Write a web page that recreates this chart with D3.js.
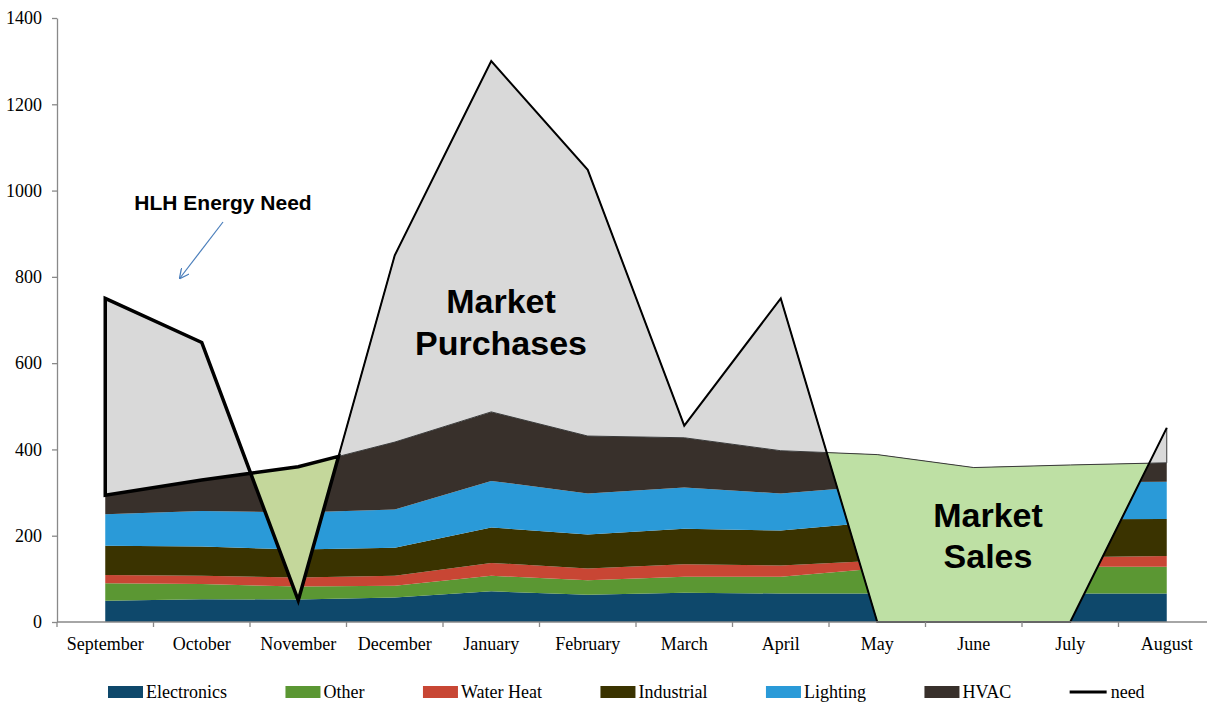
<!DOCTYPE html>
<html>
<head>
<meta charset="utf-8">
<script src="https://cdn.jsdelivr.net/npm/d3@7"></script>
<style>
  body { margin: 0; background: #fff; }
  svg { display: block; }
</style>
</head>
<body>
<svg id="chart"></svg>
<script>
// Categories and series
const months = ["September", "October", "November", "December", "January", "February",
                "March", "April", "May", "June", "July", "August"];
const electronics = [49, 53, 52, 57, 71, 63, 68, 66, 66, 64, 66, 66];
const other       = [41, 35, 30, 27, 36, 34, 37, 39, 58, 62, 62, 62];
const waterHeat   = [19, 19, 21, 23, 30, 27, 29, 26, 18, 19, 22, 25];
const industrial  = [68, 68, 65, 65, 82, 79, 82, 81, 90, 89, 88, 86];
const lighting    = [73, 82, 86, 89, 108, 95, 96, 86, 84, 86, 86, 86];
const hvac        = [44, 72, 106, 156, 160, 133, 115, 99, 72, 38, 40, 44];
const need        = [750, 648, 50, 850, 1300, 1048, 455, 750, 0, 0, 0, 450];
const yTicks = [0, 200, 400, 600, 800, 1000, 1200, 1400];

const seriesNames = ["Electronics", "Other", "Water Heat", "Industrial", "Lighting", "HVAC"];
const seriesValues = [electronics, other, waterHeat, industrial, lighting, hvac];
const seriesColors = ["#0e486b", "#5b9733", "#c84634", "#3a3300", "#2a9ad8", "#38302b"];

const W = 1207, H = 705;
const svg = d3.select("#chart").attr("width", W).attr("height", H);

// Scales
const band = d3.scaleBand().domain(months).range([57, 1215]).padding(0);
const xi = d3.scaleLinear().domain([0, months.length - 1])
  .range([band(months[0]) + band.bandwidth() / 2, band(months[months.length - 1]) + band.bandwidth() / 2]);
const y = d3.scaleLinear().domain([0, 1400]).range([622, 18]);

// Stacked areas
const rows = months.map((m, i) => {
  const r = { i: i };
  seriesNames.forEach((n, k) => r[n] = seriesValues[k][i]);
  return r;
});
const stack = d3.stack().keys(seriesNames)(rows);
const area = d3.area()
  .x(d => xi(d.data.i))
  .y0(d => y(d[0]))
  .y1(d => y(d[1]));

svg.append("g").selectAll("path")
  .data(stack)
  .join("path")
  .attr("d", area)
  .attr("fill", (d, k) => seriesColors[k]);

// Total demand for each month
const total = rows.map(r => d3.sum(seriesNames, n => r[n]));

// Build need/total with crossing points so the purchase / sale regions can be split
let pts = [];
for (let i = 0; i < months.length; i++) {
  pts.push({ i: i, need: need[i], total: total[i] });
  if (i < months.length - 1) {
    const d0 = need[i] - total[i], d1 = need[i + 1] - total[i + 1];
    if (d0 * d1 < 0) {
      const t = d0 / (d0 - d1);
      const v = need[i] + t * (need[i + 1] - need[i]);
      pts.push({ i: i + t, need: v, total: v, cross: true });
    }
  }
}
let regions = [];
let cur = [pts[0]];
for (let k = 1; k < pts.length; k++) {
  cur.push(pts[k]);
  if (pts[k].cross) {
    regions.push(cur);
    cur = [pts[k]];
  }
}
regions.push(cur);
regions = regions.map((r, k) => ({ pts: r, k: k, buy: d3.mean(r, p => p.need - p.total) > 0 }));

const regionArea = d3.area()
  .x(d => xi(d.i))
  .y0(d => y(d.total))
  .y1(d => y(d.need));

// thin-outlined regions first, the two hand-outlined ones (Sep-Nov) drawn after
const ordered = regions.filter(r => r.k >= 2).concat(regions.filter(r => r.k < 2));

const needLine = d3.line()
  .x((d, i) => xi(i))
  .y(d => y(d));

svg.append("g").selectAll("path")
  .data(ordered.filter(r => r.k >= 2))
  .join("path")
  .attr("d", r => regionArea(r.pts) + "Z")
  .attr("fill", r => r.buy ? "#d9d9d9" : "#bee0a4")
  .attr("stroke", "#3a3a3a")
  .attr("stroke-width", 1);

// Need line
svg.append("path")
  .attr("d", needLine(need))
  .attr("fill", "none")
  .attr("stroke", "#000")
  .attr("stroke-width", 2);

svg.append("g").selectAll("path")
  .data(ordered.filter(r => r.k < 2))
  .join("path")
  .attr("d", r => regionArea(r.pts) + "Z")
  .attr("fill", r => r.buy ? "#d9d9d9" : "#c4d79b")
  .attr("stroke", "#000")
  .attr("stroke-width", 3.5)
  .attr("stroke-linejoin", "miter")
  .attr("stroke-miterlimit", 10);

// Axes
const axisColor = "#898989";
const yAxis = svg.append("g")
  .attr("transform", "translate(57,0)")
  .call(d3.axisLeft(y).tickValues(yTicks).tickFormat(d3.format("d"))
    .tickSize(5).tickSizeOuter(0).tickPadding(10));
yAxis.select(".domain").attr("stroke", axisColor).attr("stroke-width", 1.3);
yAxis.selectAll(".tick line").attr("stroke", axisColor).attr("stroke-width", 1.3);
yAxis.selectAll(".tick text")
  .attr("font-family", "'Liberation Serif', 'Times New Roman', serif")
  .attr("font-size", 18)
  .attr("fill", "#000");

svg.append("line")
  .attr("x1", 57).attr("x2", W)
  .attr("y1", y(0)).attr("y2", y(0))
  .attr("stroke", axisColor).attr("stroke-width", 1.3);
svg.append("g").selectAll("line")
  .data(d3.range(months.length + 1))
  .join("line")
  .attr("x1", i => band.range()[0] + i * band.bandwidth())
  .attr("x2", i => band.range()[0] + i * band.bandwidth())
  .attr("y1", y(0)).attr("y2", y(0) + 5)
  .attr("stroke", axisColor).attr("stroke-width", 1.3);
svg.append("g").selectAll("text")
  .data(months)
  .join("text")
  .attr("x", m => band(m) + band.bandwidth() / 2)
  .attr("y", 650)
  .attr("text-anchor", "middle")
  .attr("font-family", "'Liberation Serif', 'Times New Roman', serif")
  .attr("font-size", 18)
  .text(m => m);

// Annotations
const sans = "'Liberation Sans', Arial, sans-serif";
function label(lines, cx, y0, dy, size) {
  const t = svg.append("text")
    .attr("text-anchor", "middle")
    .attr("font-family", sans)
    .attr("font-weight", "bold")
    .attr("font-size", size);
  lines.forEach((s, k) => t.append("tspan").attr("x", cx).attr("y", y0 + k * dy).text(s));
}
label(["Market", "Purchases"], 501, 313, 42, 34);
label(["Market", "Sales"], 988, 527, 41, 34);
label(["HLH Energy Need"], 223, 210, 0, 21);

const defs = svg.append("defs");
defs.append("marker")
  .attr("id", "arrow")
  .attr("viewBox", "0 0 10 10")
  .attr("refX", 9).attr("refY", 5)
  .attr("markerWidth", 10).attr("markerHeight", 10)
  .attr("markerUnits", "userSpaceOnUse")
  .attr("orient", "auto")
  .append("path")
  .attr("d", "M0,0 L10,5 L0,10")
  .attr("fill", "none")
  .attr("stroke", "#4a7ebb")
  .attr("stroke-width", 1.3);
svg.append("line")
  .attr("x1", 223).attr("y1", 222)
  .attr("x2", 180).attr("y2", 278)
  .attr("stroke", "#4a7ebb")
  .attr("stroke-width", 1.2)
  .attr("marker-end", "url(#arrow)");

// Legend
const legend = svg.append("g").attr("transform", "translate(0,692)");
let lx = 108;
const legendItems = seriesNames.map((n, k) => ({ name: n, color: seriesColors[k], line: false }))
  .concat([{ name: "need", color: "#000", line: true }]);
legendItems.forEach(it => {
  if (it.line) {
    legend.append("line")
      .attr("x1", lx).attr("x2", lx + 37)
      .attr("y1", 0).attr("y2", 0)
      .attr("stroke", it.color).attr("stroke-width", 3);
  } else {
    legend.append("rect")
      .attr("x", lx).attr("y", -6)
      .attr("width", 35).attr("height", 12)
      .attr("fill", it.color);
  }
  const t = legend.append("text")
    .attr("x", lx + (it.line ? 41 : 38))
    .attr("y", 6)
    .attr("font-family", "'Liberation Serif', 'Times New Roman', serif")
    .attr("font-size", 18)
    .text(it.name);
  lx += (it.line ? 41 : 38) + t.node().getComputedTextLength() + 58.5;
});
</script>
</body>
</html>
